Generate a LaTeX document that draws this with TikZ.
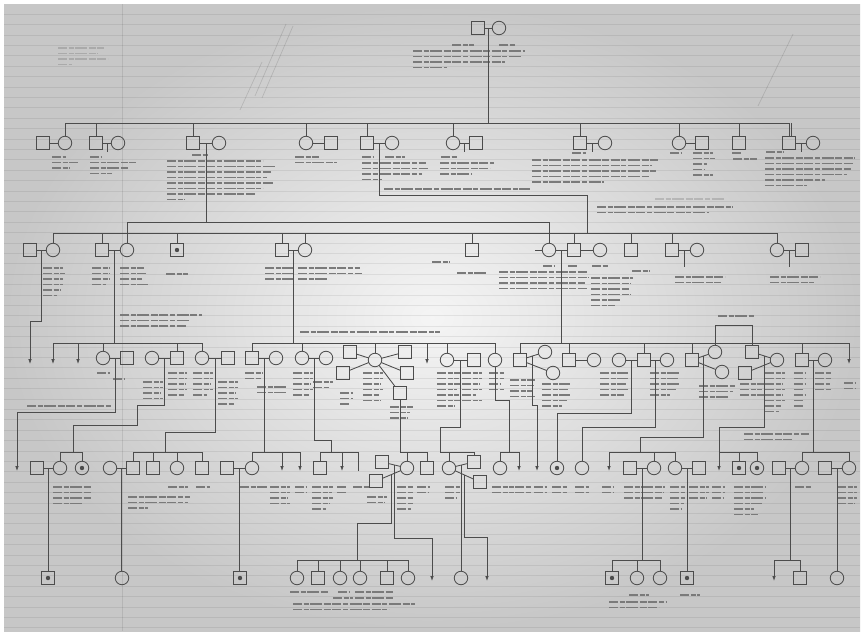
\documentclass[tikz,border=0pt]{standalone}
\usepackage{tikz}
\usetikzlibrary{arrows.meta,calc}
\definecolor{ink}{gray}{0.3}
\definecolor{pencil}{gray}{0.6}
% a block of unreadable handwritten notes: one stroke per line
\newcommand{\scrawl}[3][]{%
  \foreach \seglen [count=\rowno] in {#3}{\draw[notes,#1] (#2) ++(0,{5.5*(\rowno-1)}) -- ++(\seglen,0);}}

\begin{document}
\begin{tikzpicture}[x=1pt, y=-1pt,
    kin/.style={draw=ink, line width=0.85pt},
    male/.style={draw=ink, line width=0.85pt, minimum size=12.5pt, inner sep=0pt, outer sep=0pt},
    female/.style={male, circle, minimum size=13.5pt},
    maledot/.style={male, path picture={\fill[ink] (path picture bounding box.center) circle (2.2pt);}},
    femaledot/.style={female, path picture={\fill[ink] (path picture bounding box.center) circle (2.2pt);}},
    tipped/.style={kin, -{Latex[length=5pt,width=3.6pt]}},
    notes/.style={draw=black!52, line width=1.15pt, dash pattern=on 9pt off 1.6pt on 5pt off 1.6pt on 12pt off 1.6pt on 7pt off 1.6pt},
    faint/.style={draw=black, draw opacity=0.14}]
\useasboundingbox (0,0) rectangle (864,635);
% paper
\fill[white] (0,0) rectangle (864,635);
\shade[inner color=black!4, outer color=black!22] (4,4) rectangle (860,631);
\foreach \yy in {14,24.4,...,628} \draw[black, draw opacity=0.07, line width=0.5pt] (4,\yy) -- (860,\yy);
\draw[black, draw opacity=0.09, line width=0.5pt] (122,4) -- (122,631);
% pencil marks
\draw[black, draw opacity=0.12, line width=0.7pt] (255,96) -- (286,24) (262,98) -- (293,26) (240,110) -- (262,62) (758,106) -- (793,34);
\scrawl[faint]{58,48}{46,40,50,14}

% generation I
\node[male] (a1) at (478,28) {};
\node[female] (a2) at (499,28) {};
\draw[kin] (a1) -- (a2);
\coordinate (a1a2) at ($(a1)!.5!(a2)$);
\scrawl{452,45}{22}
\scrawl{499,45}{16}
\scrawl{413,51}{112,108,92,34}

% generation II
\node[male] (b1) at (43,143) {};
\node[female] (b2) at (65,143) {};
\node[male] (b3) at (96,143) {};
\node[female] (b4) at (118,143) {};
\node[male] (b5) at (193,143) {};
\node[female] (b6) at (219,143) {};
\node[female] (b7) at (306,143) {};
\node[male] (b8) at (331,143) {};
\node[male] (b9) at (367,143) {};
\node[female] (b10) at (392,143) {};
\node[female] (b11) at (453,143) {};
\node[male] (b12) at (476,143) {};
\node[male] (b13) at (580,143) {};
\node[female] (b14) at (605,143) {};
\node[female] (b15) at (679,143) {};
\node[male] (b16) at (702,143) {};
\node[male] (b17) at (739,143) {};
\node[male] (b18) at (789,143) {};
\node[female] (b19) at (813,143) {};
\coordinate (barB) at (0,123);
\draw[kin] (a1a2) -- (a1a2 |- barB);
\draw[kin] (b2 |- barB) -- (b18 |- barB);
\foreach \n in {b2,b3,b5,b7,b9,b11,b13,b15,b17,b18} \draw[kin] (\n) -- (\n |- barB);
\draw[kin] ([xshift=2.6pt]b18.north) -- ([xshift=2.6pt]b18.north |- barB);
\foreach \p/\q in {b1/b2,b3/b4,b5/b6,b7/b8,b9/b10,b11/b12,b13/b14,b15/b16,b18/b19} \draw[kin] (\p) -- (\q);
\foreach \p/\q in {b3/b4,b11/b12,b13/b14,b18/b19} {
  \coordinate (\p\q) at ($(\p)!.5!(\q)$);
  \draw[kin] (\p\q) -- ++(0,9);
}
\coordinate (b5b6) at ($(b5)!.5!(b6)$);
\coordinate (b9b10) at ($(b9)!.5!(b10)$);
\scrawl{52,157}{14,26,18}
\scrawl{90,157}{12,46,38,22}
\scrawl{192,155}{16}
\scrawl{167,161}{96,108,104,100,106,96,88,18}
\scrawl{295,157}{24,42}
\scrawl{362,157}{12}
\scrawl{385,157}{20}
\scrawl{362,163}{64,66,60,20}
\scrawl{441,157}{16}
\scrawl{440,163}{54,50,32}
\scrawl{384,189}{146}
\scrawl{572,153}{14}
\scrawl{532,160}{126,120,124,118,72}
\scrawl{670,153}{12}
\scrawl{693,153}{20,22,14,12,20}
\scrawl{732,153}{10}
\scrawl{733,159}{24}
\scrawl{766,152}{18}
\scrawl{765,158}{90,88,86,82,60,42}
\scrawl{597,207}{136,112}
\scrawl[faint]{655,199}{70}

% generation III
\node[male] (c1) at (30,250) {};
\node[female] (c2) at (53,250) {};
\node[male] (c3) at (102,250) {};
\node[female] (c4) at (127,250) {};
\node[maledot] (c5) at (177,250) {};
\node[male] (c6) at (282,250) {};
\node[female] (c7) at (305,250) {};
\node[male] (c8) at (472,250) {};
\node[female] (c9) at (549,250) {};
\node[male] (c10) at (574,250) {};
\node[female] (c11) at (600,250) {};
\node[male] (c12) at (631,250) {};
\node[male] (c13) at (672,250) {};
\node[female] (c14) at (697,250) {};
\node[female] (c15) at (777,250) {};
\node[male] (c16) at (802,250) {};
\coordinate (lnk) at (0,222);
\coordinate (bend) at (587,195);
\coordinate (barC) at (0,233);
\draw[kin] (b5b6) -- (b5b6 |- lnk);
\draw[kin] (c4) |- (c9 |- lnk) -- (c9);
\draw[kin] (b9b10) |- (bend) -- (bend |- barC);
\draw[kin] (c2 |- barC) -- (c15 |- barC);
\foreach \n in {c2,c3,c5,c6,c7,c8,c10,c12,c13,c15} \draw[kin] (\n) -- (\n |- barC);
\foreach \p/\q in {c1/c2,c3/c4,c6/c7,c9/c10,c10/c11,c13/c14,c15/c16} {
  \draw[kin] (\p) -- (\q);
  \coordinate (\p\q) at ($(\p)!.5!(\q)$);
}
\draw[kin] (c9.west) -- ++(-7,0);
\draw[kin] (c13c14) -- ++(0,17);
\draw[kin] (c15c16) -- ++(0,17);
\scrawl{43,268}{20,22,20,20,18,14}
\scrawl{92,268}{18,18,18,14}
\scrawl{120,268}{24,26,22,28}
\scrawl{166,274}{22}
\scrawl{265,268}{28,28,28}
\scrawl{298,268}{62,64,30}
\scrawl{120,315}{82,70,66}
\scrawl{300,332}{140}
\scrawl{432,262}{18}
\scrawl{457,273}{30}
\scrawl{543,266}{12}
\scrawl{568,266}{10}
\scrawl{592,266}{16}
\scrawl{499,272}{88,90,86,88}
\scrawl{591,278}{42,40,38,40,30,24}
\scrawl{632,271}{18}
\scrawl{675,277}{50,46}
\scrawl{770,277}{50,44}
\scrawl{718,316}{36}

% generation IV
\coordinate (d0) at (30,364);
\coordinate (d1) at (53,364);
\coordinate (d2) at (78,364);
\node[female] (d3) at (103,358) {};
\node[male] (d4) at (127,358) {};
\node[female] (d5) at (152,358) {};
\node[male] (d6) at (177,358) {};
\node[female] (d7) at (202,358) {};
\node[male] (d8) at (228,358) {};
\node[male] (d9) at (252,358) {};
\node[female] (d10) at (276,358) {};
\node[female] (d11) at (302,358) {};
\node[female] (d12) at (326,358) {};
\node[male] (d13) at (350,352) {};
\node[female] (d14) at (375,360) {};
\node[male] (d15) at (405,352) {};
\node[male] (d16) at (343,373) {};
\node[male] (d17) at (407,373) {};
\node[male] (d18) at (400,393) {};
\coordinate (d19) at (427,364);
\node[female] (d20) at (447,360) {};
\node[male] (d21) at (474,360) {};
\node[female] (d22) at (495,360) {};
\node[male] (d23) at (520,360) {};
\node[female] (d24) at (545,352) {};
\node[female] (d25) at (553,373) {};
\node[male] (d26) at (569,360) {};
\node[female] (d27) at (594,360) {};
\node[female] (d28) at (619,360) {};
\node[male] (d29) at (644,360) {};
\node[female] (d30) at (667,360) {};
\node[male] (d31) at (692,360) {};
\node[female] (d32) at (715,352) {};
\node[female] (d33) at (722,372) {};
\node[male] (d34) at (752,352) {};
\node[male] (d35) at (745,373) {};
\node[female] (d36) at (777,360) {};
\node[male] (d37) at (802,360) {};
\node[female] (d38) at (825,360) {};
\coordinate (d39) at (849,364);
\coordinate (barD) at (0,343);
\coordinate (k1) at (30,321);
\coordinate (brk) at (0,325);
\draw[tipped] (c1c2) |- (k1) -- (d0);
\foreach \p in {c3c4,c6c7,c9c10} \draw[kin] (\p) -- (\p |- barD);
\draw[kin] (d1 |- barD) -- (d7 |- barD);
\draw[kin] (d9 |- barD) -- (d22 |- barD);
\draw[kin] (d23 |- barD) -- (d39 |- barD);
\foreach \n in {d1,d2,d19,d39} \draw[tipped] (\n |- barD) -- (\n);
\foreach \n in {d3,d6,d7,d9,d11,d14,d20,d22,d23,d26,d29,d31,d32,d34,d37} \draw[kin] (\n) -- (\n |- barD);
\draw[kin] (d32 |- barD) |- (d34 |- brk) -- (d34 |- barD);
\foreach \p/\q in {d3/d4,d5/d6,d7/d8,d9/d10,d11/d12,d20/d21,d23/d24,d26/d27,d28/d29,d29/d30,d31/d32,d36/d34,d37/d38} {
  \draw[kin] (\p) -- (\q);
  \coordinate (\p\q) at ($(\p)!.5!(\q)$);
}
\foreach \p/\q in {d14/d13,d14/d15,d14/d16,d14/d17,d14/d18,d23/d25,d31/d33,d36/d35} \draw[kin] (\p) -- (\q);
\scrawl{27,406}{84}
\scrawl{97,373}{13}
\scrawl{113,379}{12}
\scrawl{143,382}{20,20,18,20}
\scrawl{168,373}{19,19,18,19,16}
\scrawl{193,373}{20,20,18,20,14}
\scrawl{218,382}{20,20,18,20,16}
\scrawl{245,373}{18,16}
\scrawl{257,387}{30,30}
\scrawl{293,373}{20,20,18,20,16}
\scrawl{313,382}{20,16}
\scrawl{340,393}{13,13,10}
\scrawl{363,373}{20,20,18,20,16,18}
\scrawl{390,407}{23,20,18}
\scrawl{437,373}{23,22,23,20,22,23,18}
\scrawl{462,373}{20,20,18,20,14,20}
\scrawl{489,373}{15,15,12,15}
\scrawl{510,380}{25,24,22,25}
\scrawl{542,384}{28,26,28,25,20}
\scrawl{600,373}{28,28,26,28,24}
\scrawl{650,373}{30,28,30,26,20}
\scrawl{699,386}{36,34,30}
\scrawl{740,384}{24,22,24}
\scrawl{765,373}{20,20,18,20,18,20,16,14}
\scrawl{794,373}{11,11,11,10,11,10,9}
\scrawl{815,373}{17,17,15,17}
\scrawl{844,383}{11,11}
\scrawl{744,434}{65,48}

% generation V
\coordinate (e1) at (17,471);
\node[male] (e2) at (37,468) {};
\node[female] (e3) at (60,468) {};
\node[femaledot] (e4) at (82,468) {};
\node[female] (e5) at (110,468) {};
\node[male] (e6) at (133,468) {};
\node[male] (e7) at (153,468) {};
\node[female] (e8) at (177,468) {};
\node[male] (e9) at (202,468) {};
\node[male] (e10) at (227,468) {};
\node[female] (e11) at (252,468) {};
\coordinate (e12) at (282,471);
\coordinate (e13) at (300,471);
\node[male] (e14) at (320,468) {};
\coordinate (e15) at (342,471);
\coordinate (e16) at (358,471);
\node[male] (e17) at (382,462) {};
\node[male] (e18) at (376,481) {};
\node[female] (e19) at (407,468) {};
\node[male] (e20) at (427,468) {};
\node[female] (e21) at (449,468) {};
\node[male] (e22) at (474,462) {};
\node[male] (e23) at (480,482) {};
\node[female] (e24) at (500,468) {};
\coordinate (e25) at (519,471);
\coordinate (e26) at (537,471);
\node[femaledot] (e27) at (557,468) {};
\node[female] (e28) at (582,468) {};
\coordinate (e29) at (609,471);
\node[male] (e30) at (630,468) {};
\node[female] (e31) at (654,468) {};
\node[female] (e32) at (675,468) {};
\node[male] (e33) at (699,468) {};
\coordinate (e34) at (719,471);
\node[maledot] (e35) at (739,468) {};
\node[femaledot] (e36) at (757,468) {};
\node[male] (e37) at (779,468) {};
\node[female] (e38) at (802,468) {};
\node[male] (e39) at (825,468) {};
\node[female] (e40) at (849,468) {};
\coordinate (barE) at (0,452);
\coordinate (k2) at (17,412);
\coordinate (k3) at (137,405);
\coordinate (k4) at (73,425);
\coordinate (k5) at (165,432);
\coordinate (k6) at (331,440);
\coordinate (k7) at (440,427);
\coordinate (k8) at (509,400);
\coordinate (k9) at (537,405);
\coordinate (k10) at (557,413);
\coordinate (k11) at (582,427);
\coordinate (k12) at (640,437);
\coordinate (k13) at (719,427);
\draw[tipped] (d3d4) |- (k2) -- (e1);
\draw[kin] (d5d6) |- (k3) |- (k4) -- (k4 |- barE);
\draw[kin] (d7d8) |- (k5) -- (k5 |- barE);
\draw[kin] (d9d10) -- (d9d10 |- barE);
\draw[kin] (d11d12) |- (k6) -- (k6 |- barE);
\draw[kin] (d18) -- (d18 |- barE);
\draw[kin] (d20d21) |- (k7) -- (k7 |- barE);
\draw[kin] (d22) |- (k8) -- (k8 |- barE);
\draw[tipped] (d23d24) |- (k9) -- (e26);
\draw[kin] (d28d29) |- (k10) -- (e27);
\draw[kin] (d29d30) |- (k11) -- (e28);
\draw[kin] (d31d32) |- (k12) -- (k12 |- barE);
\draw[kin] (d36d34) |- (k13) -- (k13 |- barE);
\draw[kin] (d37d38) -- (d37d38 |- barE);
\foreach \l/\r in {e3/e4,e6/e9,e11/e13,e14/e16,d18/e20,k7/e22,e24/e25,e29/e32,e34/e36,e38/e40}
  \draw[kin] (\l |- barE) -- (\r |- barE);
\foreach \n in {e12,e13,e15,e25,e29,e34} \draw[tipped] (\n |- barE) -- (\n);
\foreach \n in {e3,e4,e6,e7,e8,e9,e11,e14,e16,e19,e20,e21,e22,e24,e31,e32,e35,e36,e38,e40} \draw[kin] (\n) -- (\n |- barE);
\foreach \p/\q in {e2/e3,e5/e6,e10/e11,e17/e19,e18/e19,e21/e22,e21/e23,e30/e31,e32/e33,e37/e38,e39/e40} {
  \draw[kin] (\p) -- (\q);
  \coordinate (\p\q) at ($(\p)!.5!(\q)$);
}
\scrawl{53,487}{39,38,38,30}
\scrawl{168,487}{20}
\scrawl{196,487}{14}
\scrawl{128,497}{62,60,20}
\scrawl{240,487}{27}
\scrawl{270,487}{20,20,18,20}
\scrawl{295,487}{12,12}
\scrawl{312,487}{21,20,21,18,14}
\scrawl{337,487}{10,10}
\scrawl{353,487}{17}
\scrawl{367,497}{20,18}
\scrawl{397,487}{16,16,16,16,14}
\scrawl{417,487}{13,12}
\scrawl{445,487}{15,15,12}
\scrawl{492,487}{22,22}
\scrawl{515,487}{17,17}
\scrawl{534,487}{13,13}
\scrawl{552,487}{15,15}
\scrawl{575,487}{14,14}
\scrawl{602,487}{12,12}
\scrawl{624,487}{41,40,38}
\scrawl{670,487}{15,15,15,14,12}
\scrawl{689,487}{20,20,18}
\scrawl{712,487}{13,13,11}
\scrawl{734,487}{31,30,31,28,20,24}
\scrawl{795,487}{17}
\scrawl{837,487}{20,20,20,18}

% generation VI
\node[maledot] (f1) at (48,578) {};
\node[female] (f2) at (122,578) {};
\node[maledot] (f3) at (240,578) {};
\node[female] (f4) at (297,578) {};
\node[male] (f5) at (318,578) {};
\node[female] (f6) at (340,578) {};
\node[female] (f7) at (360,578) {};
\node[male] (f8) at (387,578) {};
\node[female] (f9) at (408,578) {};
\coordinate (f10) at (432,581);
\node[female] (f11) at (461,578) {};
\coordinate (f12) at (487,581);
\node[maledot] (f13) at (612,578) {};
\node[female] (f14) at (637,578) {};
\node[female] (f15) at (660,578) {};
\node[maledot] (f16) at (687,578) {};
\coordinate (f17) at (774,581);
\node[male] (f18) at (800,578) {};
\node[female] (f19) at (837,578) {};
\coordinate (barF) at (0,560);
\coordinate (k14) at (357,523);
\coordinate (k15) at (432,538);
\coordinate (k16) at (487,537);
\draw[kin] (e2e3) -- (e2e3 |- f1.north);
\draw[kin] (e5e6) -- (e5e6 |- f2.north);
\draw[kin] (e10e11) -- (e10e11 |- f3.north);
\draw[kin] (e18e19) |- (k14) -- (k14 |- barF);
\draw[tipped] (e17e19) |- (k15) -- (f10);
\draw[kin] (e21e22) -- (e21e22 |- f11.north);
\draw[tipped] (e21e23) |- (k16) -- (f12);
\draw[kin] (e30e31) -- (e30e31 |- barF);
\draw[kin] (e32e33) -- (e32e33 |- f16.north);
\draw[kin] (e37e38) -- (e37e38 |- barF);
\draw[kin] (e39e40) -- (e39e40 |- f19.north);
\foreach \l/\r in {f4/f9,f13/f15,f17/f18} \draw[kin] (\l |- barF) -- (\r |- barF);
\foreach \n in {f4,f5,f6,f7,f8,f9,f13,f14,f15,f18} \draw[kin] (\n) -- (\n |- barF);
\draw[tipped] (f17 |- barF) -- (f17);
\scrawl{290,592}{38}
\scrawl{338,592}{12}
\scrawl{355,592}{38}
\scrawl{333,598}{20}
\scrawl{355,598}{38}
\scrawl{293,604}{122,96}
\scrawl{629,595}{20}
\scrawl{609,602}{58,50}
\scrawl{680,595}{20}
\end{tikzpicture}
\end{document}
